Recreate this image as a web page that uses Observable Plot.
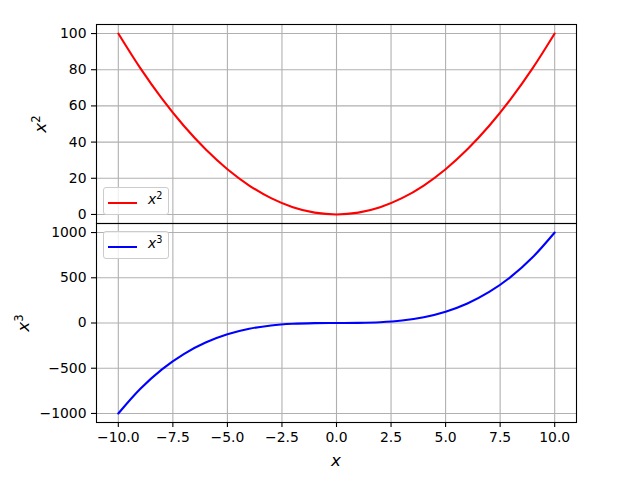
<!DOCTYPE html>
<html>
<head>
<meta charset="utf-8">
<script src="https://cdn.jsdelivr.net/npm/d3@7"></script>
<script src="https://cdn.jsdelivr.net/npm/@observablehq/plot@0.6"></script>
<style>
  body { margin: 0; background: white; }
  #wrap { position: relative; width: 640px; height: 480px; font-family: "DejaVu Sans", sans-serif; }
  #wrap svg { display: block; }
  .ylab { position: absolute; transform: translate(-50%, -50%) rotate(-90deg); font-size: 16.7px; white-space: nowrap; color: #000; }
  .xlab { position: absolute; transform: translate(-50%, -50%); font-size: 16.7px; color: #000; }
  .sup { font-size: 0.7em; position: relative; top: -0.5em; font-style: normal; }
  .legend { position: absolute; width: 66px; height: 28px; border: 1px solid #cccccc; border-radius: 3px; background: rgba(255,255,255,0.8); box-sizing: border-box; }
  .legend .ln { position: absolute; left: 4px; top: 14px; width: 29px; height: 2px; }
  .legend .tx { position: absolute; left: 44px; top: 3px; font-size: 13.9px; color: #000; white-space: nowrap; }
</style>
</head>
<body>
<div id="wrap"></div>
<script>
const xs = [-10,-9,-8,-7,-6,-5,-4,-3,-2,-1,0,1,2,3,4,5,6,7,8,9,10];
const squares = [100,81,64,49,36,25,16,9,4,1,0,1,4,9,16,25,36,49,64,81,100];
const cubes = [-1000,-729,-512,-343,-216,-125,-64,-27,-8,-1,0,1,8,27,64,125,216,343,512,729,1000];
const xTicks = [-10,-7.5,-5,-2.5,0,2.5,5,7.5,10];
const yTicksTop = [0,20,40,60,80,100];
const yTicksBottom = [-1000,-500,0,500,1000];

const sqData = xs.map((x,i) => ({x, y: squares[i]}));
const cuData = xs.map((x,i) => ({x, y: cubes[i]}));

const minus = v => (v < 0 ? "\u2212" : "") + Math.abs(v);
const fmtX = v => (v < 0 ? "\u2212" : "") + Math.abs(v).toFixed(1);
const gridStyle = {stroke: "#b0b0b0", strokeOpacity: 1, strokeWidth: 1.1};
const style = {fontFamily: "DejaVu Sans", fontSize: "13.9px", color: "black", background: "white", overflow: "visible"};

const topPlot = Plot.plot({
  width: 640, height: 223,
  marginLeft: 96, marginRight: 64, marginTop: 24, marginBottom: 0,
  style,
  x: {domain: [-11, 11], axis: null},
  y: {domain: [-5, 105], axis: null},
  marks: [
    Plot.gridX(xTicks, gridStyle),
    Plot.gridY(yTicksTop, gridStyle),
    Plot.line(sqData, {x: "x", y: "y", stroke: "red", strokeWidth: 2.1, curve: "catmull-rom"}),
    Plot.axisY(yTicksTop, {tickSize: 5, tickPadding: 5, strokeWidth: 1.1, label: null, tickFormat: minus}),
    Plot.frame({stroke: "black", strokeWidth: 1.1})
  ]
});

const bottomPlot = Plot.plot({
  width: 640, height: 257,
  marginLeft: 96, marginRight: 64, marginTop: 0, marginBottom: 58,
  style,
  x: {domain: [-11, 11]},
  y: {domain: [-1100, 1100]},
  marks: [
    Plot.gridX(xTicks, gridStyle),
    Plot.gridY(yTicksBottom, gridStyle),
    Plot.line(cuData, {x: "x", y: "y", stroke: "blue", strokeWidth: 2.1, curve: "catmull-rom"}),
    Plot.axisY(yTicksBottom, {tickSize: 5, tickPadding: 5, strokeWidth: 1.1, label: null, tickFormat: minus}),
    Plot.axisX(xTicks, {tickSize: 5, tickPadding: 5, strokeWidth: 1.1, label: null, tickFormat: fmtX}),
    Plot.frame({stroke: "black", strokeWidth: 1.1})
  ]
});

const wrap = document.getElementById("wrap");
wrap.append(topPlot, bottomPlot);

function addHTML(html) {
  const d = document.createElement("div");
  d.innerHTML = html;
  wrap.append(d.firstElementChild);
}
addHTML('<div class="ylab" style="left:40px;top:124px"><i>x</i><span class="sup">2</span></div>');
addHTML('<div class="ylab" style="left:23px;top:323px"><i>x</i><span class="sup">3</span></div>');
addHTML('<div class="xlab" style="left:336px;top:460px"><i>x</i></div>');
addHTML('<div class="legend" style="left:103px;top:187px"><div class="ln" style="background:red"></div><div class="tx"><i>x</i><span class="sup">2</span></div></div>');
addHTML('<div class="legend" style="left:103px;top:231px"><div class="ln" style="background:blue"></div><div class="tx"><i>x</i><span class="sup">3</span></div></div>');
</script>
</body>
</html>
